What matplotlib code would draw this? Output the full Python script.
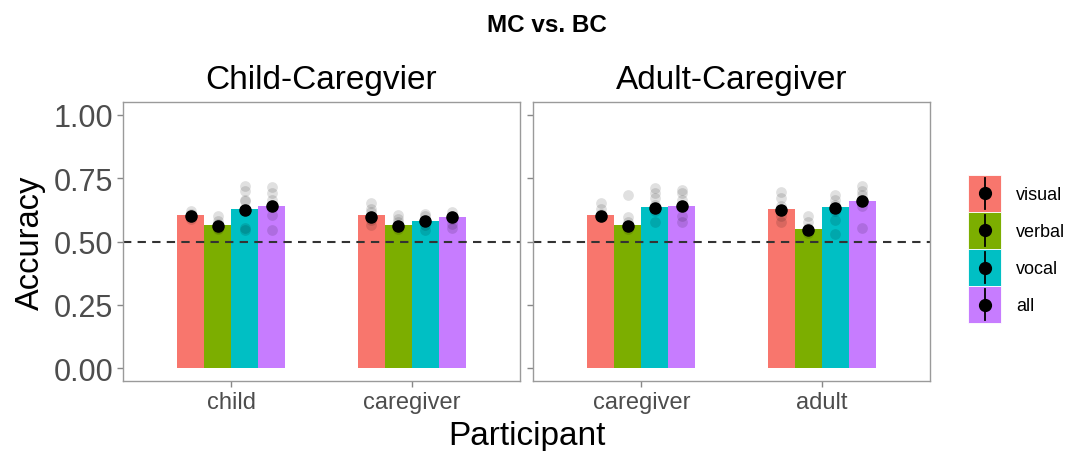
import matplotlib
matplotlib.use("Agg")
import matplotlib.pyplot as plt
import numpy as np
from matplotlib.patches import Patch, Rectangle
from matplotlib.lines import Line2D

plt.rcParams["font.family"] = ["Liberation Sans", "DejaVu Sans"]

modalities = ["visual", "verbal", "vocal", "all"]
colors = ["#F8766D", "#7CAE00", "#00BFC4", "#C77CFF"]
panel_titles = ["Child-Caregvier", "Adult-Caregiver"]
participants = [["child", "caregiver"], ["caregiver", "adult"]]

# bar heights [panel][participant][modality]
bar_vals = [
    [[0.605, 0.565, 0.628, 0.641], [0.605, 0.565, 0.581, 0.597]],
    [[0.605, 0.565, 0.636, 0.640], [0.628, 0.549, 0.636, 0.660]],
]
# mean points
mean_vals = [
    [[0.600, 0.561, 0.625, 0.640], [0.597, 0.561, 0.580, 0.595]],
    [[0.600, 0.561, 0.632, 0.640], [0.625, 0.547, 0.632, 0.660]],
]
err_vals = [
    [[0.010, 0.012, 0.018, 0.020], [0.012, 0.010, 0.012, 0.012]],
    [[0.012, 0.015, 0.018, 0.018], [0.015, 0.012, 0.020, 0.020]],
]
# individual points
indiv = [
    [
        [[0.61, 0.62, 0.60, 0.59, 0.595, 0.605],
         [0.60, 0.58, 0.57, 0.555, 0.55, 0.565],
         [0.72, 0.70, 0.665, 0.66, 0.625, 0.553, 0.545],
         [0.715, 0.69, 0.665, 0.645, 0.605, 0.545]],
        [[0.65, 0.63, 0.615, 0.60, 0.585, 0.565],
         [0.605, 0.59, 0.575, 0.56, 0.55],
         [0.61, 0.60, 0.585, 0.565, 0.545],
         [0.615, 0.60, 0.59, 0.57, 0.555]],
    ],
    [
        [[0.65, 0.63, 0.61, 0.595],
         [0.684, 0.595, 0.575, 0.56, 0.55],
         [0.71, 0.69, 0.67, 0.645, 0.62, 0.575],
         [0.705, 0.69, 0.665, 0.64, 0.60, 0.575]],
        [[0.695, 0.67, 0.64, 0.62, 0.60, 0.575],
         [0.60, 0.575, 0.555, 0.535],
         [0.685, 0.665, 0.645, 0.62, 0.585, 0.53],
         [0.72, 0.70, 0.685, 0.665, 0.64, 0.555]],
    ],
]
yticks = [0.00, 0.25, 0.50, 0.75, 1.00]
ytick_labels = ["0.00", "0.25", "0.50", "0.75", "1.00"]


class PointRangeKey:
    def legend_artist(self, legend, orig_handle, fontsize, handlebox):
        x0, y0 = handlebox.xdescent, handlebox.ydescent
        w, h = handlebox.width, handlebox.height
        tr = handlebox.get_transform()
        rect = Rectangle((-x0, -y0), w, h, facecolor=orig_handle.get_facecolor(),
                         edgecolor="white", linewidth=0.6, transform=tr)
        cx, cy = -x0 + w / 2, -y0 + h / 2
        vline = Line2D([cx, cx], [-y0 + 0.06 * h, -y0 + 0.94 * h],
                       color="black", linewidth=1.3, transform=tr)
        dot = Line2D([cx], [cy], marker="o", markersize=8.5, color="black",
                     linestyle="None", transform=tr)
        handlebox.add_artist(rect)
        handlebox.add_artist(vline)
        handlebox.add_artist(dot)
        return rect


W, H = 1071, 452
fig = plt.figure(figsize=(W / 100, H / 100), dpi=100)
offsets = [-0.225, -0.075, 0.075, 0.225]
bw = 0.15
grey_txt = "#4D4D4D"
axes = []
for p in range(2):
    left = [123, 533][p]
    ax = fig.add_axes([left / W, (H - 382) / H, 397 / W, 279 / H])
    axes.append(ax)
    for i in range(2):
        for m in range(4):
            x = i + 1 + offsets[m]
            ax.bar(x, bar_vals[p][i][m], width=bw, color=colors[m], zorder=1)
            ys = indiv[p][i][m]
            ax.scatter([x] * len(ys), ys, s=60, color="black", alpha=0.12,
                       linewidths=0, zorder=3)
            ax.errorbar(x, mean_vals[p][i][m], yerr=err_vals[p][i][m], fmt="o",
                        color="black", markersize=8, elinewidth=1.2, zorder=4)
    ax.axhline(0.5, color="#333333", linestyle=(0, (4, 3)), linewidth=1.5, zorder=2)
    ax.set_xlim(0.4, 2.6)
    ax.set_ylim(-0.05, 1.05)
    ax.set_xticks([1, 2])
    ax.set_xticklabels(participants[p], fontsize=17, color=grey_txt)
    ax.set_yticks(yticks)
    if p == 0:
        ax.set_yticklabels(ytick_labels, fontsize=22, color=grey_txt)
    else:
        ax.set_yticklabels([])
        ax.tick_params(axis="y", length=0)
    ax.tick_params(axis="both", color="#888888", length=4, width=1, pad=3)
    for s in ax.spines.values():
        s.set_color("#9A9A9A")
        s.set_linewidth(1)
    ax.text(0.5, 1 + (103 - 81) / 279, panel_titles[p], transform=ax.transAxes,
            ha="center", va="center", fontsize=24)

fig.text(547 / W, 1 - 25 / H, "MC vs. BC", ha="center", va="center",
         fontsize=17.5, fontweight="bold")
fig.text(527 / W, 1 - 437 / H, "Participant", ha="center", va="center", fontsize=24)
fig.text(30 / W, 1 - 243 / H, "Accuracy", ha="center", va="center",
         fontsize=23.5, rotation=90)

handles = [Patch(facecolor=c) for c in colors]
leg = fig.legend(handles, modalities, loc="center left",
                 bbox_to_anchor=(968 / W, 1 - 250 / H), frameon=False,
                 fontsize=13, handlelength=1.85, handleheight=2.7,
                 labelspacing=0.05, handletextpad=0.8, borderpad=0,
                 borderaxespad=0, handler_map={Patch: PointRangeKey()})

fig.savefig("out.png", dpi=100)
